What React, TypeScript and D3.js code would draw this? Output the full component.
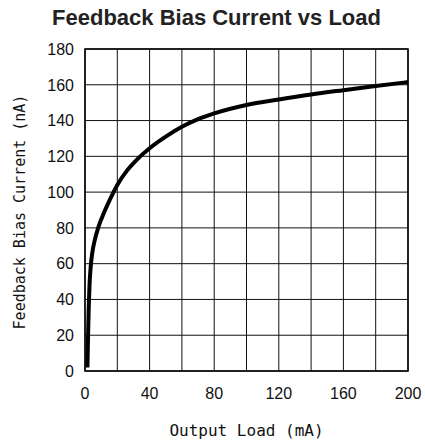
import React from "react";
import * as d3 from "d3";

const loadMA = [1.5, 1.9, 2.3, 2.8, 3.5, 4.5, 6, 8.5, 12, 17.7, 20, 26, 32, 40, 50, 60, 70, 80, 100, 120, 140, 160, 180, 200];
const biasNA = [2, 20, 35, 48, 58, 66, 73, 81, 89, 100, 104, 112, 118, 124.5, 131, 136.5, 140.8, 144, 148.7, 151.8, 154.6, 157, 159.3, 161.5];
const xTicks = [0, 40, 80, 120, 160, 200];
const yTicks = [0, 20, 40, 60, 80, 100, 120, 140, 160, 180];
const xGrid = [0, 20, 40, 60, 80, 100, 120, 140, 160, 180, 200];

const W = 425, H = 444;
const L = 85, T = 49, R = 408, B = 371;

export default function App() {
  const x = d3.scaleLinear().domain([0, 200]).range([L, R]);
  const y = d3.scaleLinear().domain([0, 180]).range([B, T]);
  const pts = loadMA.map((v, i) => [v, biasNA[i]] as [number, number]);
  const line = d3.line<[number, number]>().x(d => x(d[0])).y(d => y(d[1])).curve(d3.curveMonotoneX);
  return (
    <svg width={W} height={H} style={{ position: "absolute", left: 0, top: 0, background: "#fff" }}>
      <text x={216.5} y={25} textAnchor="middle" fontFamily="Liberation Sans, Arial" fontWeight="bold" fontSize={22} fill="#222">Feedback Bias Current vs Load</text>
      {xGrid.map(v => (
        <line key={"gx" + v} x1={x(v)} x2={x(v)} y1={T} y2={B} stroke="#111" strokeWidth={1} />
      ))}
      {yTicks.map(v => (
        <line key={"gy" + v} x1={L} x2={R} y1={y(v)} y2={y(v)} stroke="#111" strokeWidth={1} />
      ))}
      <rect x={L} y={T} width={R - L} height={B - T} fill="none" stroke="#000" strokeWidth={1.5} />
      <path d={line(pts) || ""} fill="none" stroke="#000" strokeWidth={4} strokeLinecap="butt" />
      {yTicks.map(v => (
        <text key={"ty" + v} x={74} y={y(v)} dy="0.36em" textAnchor="end" fontFamily="Liberation Sans, Arial" fontSize={16} fill="#111">{v}</text>
      ))}
      {xTicks.map(v => (
        <text key={"tx" + v} x={x(v)} y={399} textAnchor="middle" fontFamily="Liberation Sans, Arial" fontSize={16} fill="#111">{v}</text>
      ))}
      <text x={(L + R) / 2} y={436} textAnchor="middle" fontFamily="DejaVu Sans Mono" fontSize={16} fill="#111">Output Load (mA)</text>
      <text transform={`translate(25,${(T + B) / 2 + 2}) rotate(-90)`} textAnchor="middle" fontFamily="DejaVu Sans Mono" fontSize={15} fill="#111">Feedback Bias Current (nA)</text>
    </svg>
  );
}
